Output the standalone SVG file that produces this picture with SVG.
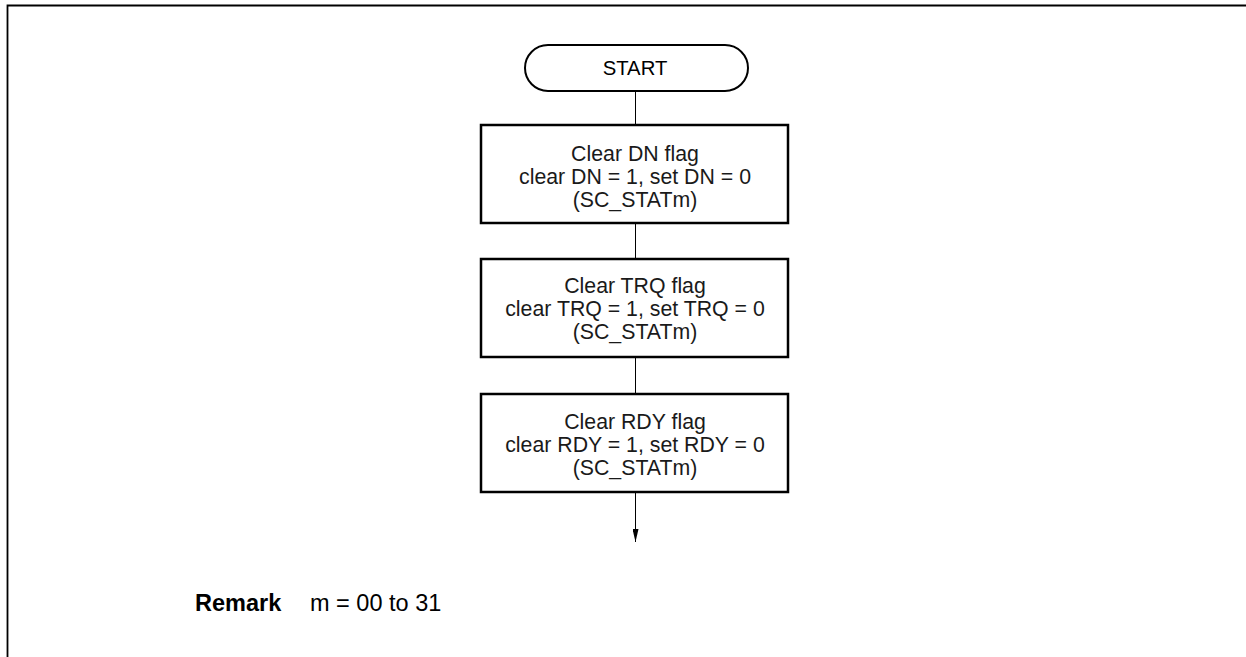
<svg xmlns="http://www.w3.org/2000/svg" width="1246" height="657" viewBox="0 0 1246 657">
<style>
.t{font-family:"Liberation Sans",Arial,sans-serif;font-size:21.3px;fill:#1a1a1a;text-anchor:middle}
.s{font-family:"Liberation Sans",Arial,sans-serif;font-size:20.3px;fill:#000;text-anchor:middle}
.box{fill:#fff;stroke:#000;stroke-width:2.5}
.term{fill:#fff;stroke:#000;stroke-width:2}
.c{stroke:#000;stroke-width:1;fill:none}
.r{font-family:"Liberation Sans",Arial,sans-serif;font-size:23.5px;fill:#000}
</style>
<defs>
<marker id="ah" viewBox="0 0 13 6" refX="13" refY="3" markerWidth="13" markerHeight="6" markerUnits="userSpaceOnUse" orient="auto">
<path d="M0,0 L13,3 L0,6 z" fill="#000"/>
</marker>
</defs>
<rect width="1246" height="657" fill="#fff"/>
<path d="M7.5,657 V5.5 H1246" fill="none" stroke="#000" stroke-width="1.8"/>
<g id="connectors">
<line class="c" x1="635.5" y1="91" x2="635.5" y2="125"/>
<line class="c" x1="635.5" y1="223" x2="635.5" y2="259"/>
<line class="c" x1="635.5" y1="357" x2="635.5" y2="394"/>
<line class="c" x1="635.5" y1="492" x2="635.5" y2="542" marker-end="url(#ah)"/>
</g>
<g id="start">
<rect class="term" x="525" y="45" width="223" height="46" rx="23" ry="23"/>
<text class="s" x="635" y="75">START</text>
</g>
<g id="clear-dn">
<rect class="box" x="481" y="125" width="307" height="98"/>
<text class="t" x="635" y="161">Clear DN flag</text>
<text class="t" x="635" y="184">clear DN = 1, set DN = 0</text>
<text class="t" x="635" y="207">(SC_STATm)</text>
</g>
<g id="clear-trq">
<rect class="box" x="481" y="259" width="307" height="98"/>
<text class="t" x="635" y="293">Clear TRQ flag</text>
<text class="t" x="635" y="316">clear TRQ = 1, set TRQ = 0</text>
<text class="t" x="635" y="339">(SC_STATm)</text>
</g>
<g id="clear-rdy">
<rect class="box" x="481" y="394" width="307" height="98"/>
<text class="t" x="635" y="429">Clear RDY flag</text>
<text class="t" x="635" y="452">clear RDY = 1, set RDY = 0</text>
<text class="t" x="635" y="475">(SC_STATm)</text>
</g>
<g id="remark">
<text class="r" x="195" y="611" font-weight="bold">Remark</text>
<text class="r" x="310" y="611">m = 00 to 31</text>
</g>
</svg>
